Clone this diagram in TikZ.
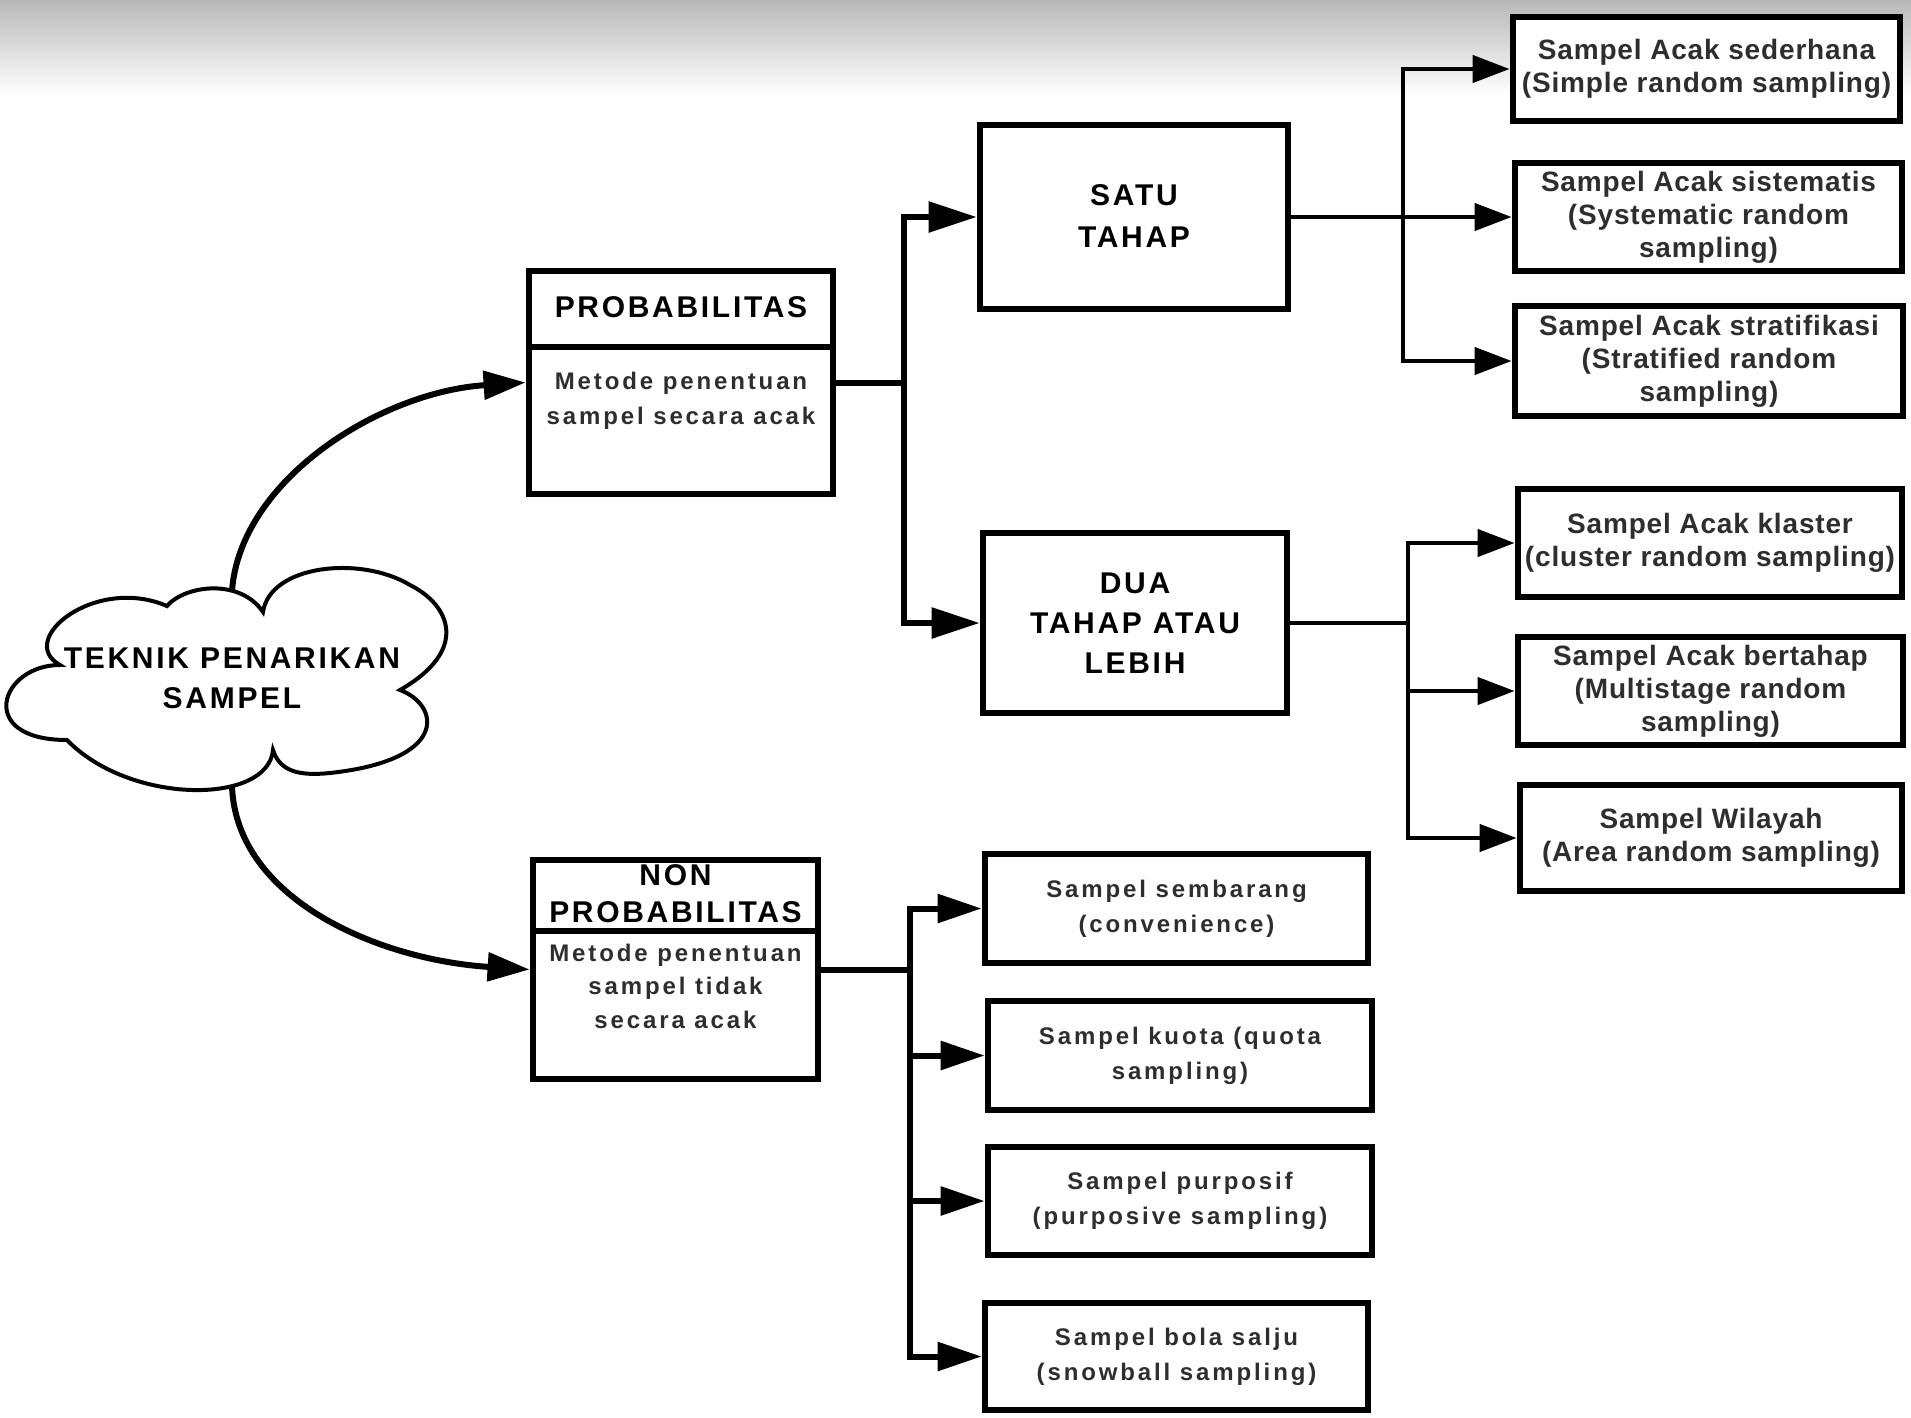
\documentclass[tikz,border=0pt]{standalone}
\usepackage{fontspec}
\setmainfont{Liberation Sans}
\newfontfamily\titlefont[LetterSpace=9]{Liberation Sans}
\newfontfamily\bodyfont[LetterSpace=12]{Liberation Sans}
\newfontfamily\leaffont[LetterSpace=3]{Liberation Sans}
\usetikzlibrary{arrows.meta,calc}

\begin{document}
\begin{tikzpicture}[x=0.5pt,y=-0.5pt,
  box/.style={draw=black, line width=3.4pt, fill=white, rectangle, inner sep=1pt, align=center},
  titletext/.style={font=\titlefont\bfseries\fontsize{15}{20}\selectfont, text=black, align=center, inner sep=0pt},
  bodytext/.style={font=\bodyfont\bfseries\fontsize{12}{17.5}\selectfont, text=black!82, align=center, inner sep=0pt},
  leaftext/.style={font=\leaffont\bfseries\fontsize{14}{16.5}\selectfont, text=black!82},
  smallbox/.style={box, font=\bodyfont\bfseries\fontsize{12}{17.5}\selectfont, text=black!82},
  link/.style={draw=black, line width=3pt},
  thinlink/.style={draw=black, line width=2.2pt},
  tipcurve/.style={-{Triangle[length=21pt,width=14pt]}},
  tipmid/.style={-{Triangle[length=24pt,width=15pt]}},
  tipright/.style={-{Triangle[length=18.5pt,width=13.5pt]}},
  tiplow/.style={-{Triangle[length=22pt,width=14pt]}},
]
\useasboundingbox (0,0) rectangle (1911,1418);
\fill[white] (0,0) rectangle (1911,1418);

% grey band along the upper edge of the sheet
\shade[top color=black!28, bottom color=white] (0,0) rectangle (1911,95);

% ---------- cloud ----------
\draw[line width=2pt, fill=white]
  (60,665) .. controls (15,640) and (95,575) .. (167,606)
  .. controls (185,585) and (240,578) .. (263,612)
  .. controls (270,565) and (360,555) .. (410,585)
  .. controls (450,605) and (470,650) .. (400,690)
  .. controls (440,705) and (450,760) .. (330,773)
  .. controls (300,776) and (280,772) .. (273,750)
  .. controls (268,805) and (130,805) .. (67,740)
  .. controls (-25,740) and (0,665) .. (60,665) -- cycle;
\node[titletext] (cloudtext) at (232,678) {TEKNIK PENARIKAN\\SAMPEL};
\coordinate (ctop) at (232,591);
\coordinate (cbot) at (232,786);

% ---------- main category boxes ----------
\node[box, minimum width=152pt, minimum height=111.5pt] (prob) at (681,382.5) {};
\coordinate (probdiv) at (0,347);
\draw[line width=3.4pt] (prob.west |- probdiv) -- (prob.east |- probdiv);
\node[titletext] (probtitle) at (681,307) {PROBABILITAS};
\node[bodytext] (probbody) at (681,401) {Metode penentuan\\sampel secara acak};

\node[box, minimum width=142.5pt, minimum height=109.5pt] (nonprob) at (675.5,969.5) {};
\coordinate (nonprobdiv) at (0,931);
\draw[line width=3.4pt] (nonprob.west |- nonprobdiv) -- (nonprob.east |- nonprobdiv);
\node[titletext, font=\titlefont\bfseries\fontsize{15}{18.5}\selectfont] (nonprobtitle) at (675.5,893.5) {NON\\PROBABILITAS};
\node[bodytext, font=\bodyfont\bfseries\fontsize{12}{16.75}\selectfont] (nonprobbody) at (675.5,986) {Metode penentuan\\sampel tidak\\secara acak};

% ---------- stage boxes ----------
\node[box, minimum width=154pt, minimum height=92pt] (satu) at (1134,217) {};
\node[titletext, font=\titlefont\bfseries\fontsize{15}{21}\selectfont] (satutext) at (1134,216) {SATU\\TAHAP};
\node[box, minimum width=152pt, minimum height=90pt] (dua) at (1135,623) {};
\node[titletext] (duatext) at (1135,623) {DUA\\TAHAP ATAU\\LEBIH};

% ---------- probability techniques ----------
\node[box, leaftext, minimum width=193.5pt, minimum height=52pt] (b1) at (1706.5,69) {Sampel Acak sederhana\\(Simple random sampling)};
\node[box, leaftext, minimum width=193.5pt, minimum height=54pt] (b2) at (1708.5,217) {Sampel Acak sistematis\\(Systematic random\\sampling)};
\node[box, leaftext, minimum width=194pt, minimum height=55pt] (b3) at (1709,361) {Sampel Acak stratifikasi\\(Stratified random\\sampling)};
\node[box, leaftext, minimum width=192pt, minimum height=54pt] (b4) at (1710,543) {Sampel Acak klaster\\(cluster random sampling)};
\node[box, leaftext, minimum width=192.5pt, minimum height=54pt] (b5) at (1710.5,691) {Sampel Acak bertahap\\(Multistage random\\sampling)};
\node[box, leaftext, minimum width=191pt, minimum height=53pt] (b6) at (1711,838) {Sampel Wilayah\\(Area random sampling)};

% ---------- non-probability techniques ----------
\node[smallbox, minimum width=191.5pt, minimum height=54.5pt] (b7) at (1176.5,908.5) {Sampel sembarang\\(convenience)};
\node[smallbox, minimum width=192pt, minimum height=54.5pt] (b8) at (1180,1055.5) {Sampel kuota (quota\\sampling)};
\node[smallbox, minimum width=192pt, minimum height=54pt] (b9) at (1180,1201) {Sampel purposif\\(purposive sampling)};
\node[smallbox, minimum width=191.5pt, minimum height=53.5pt] (b10) at (1176.5,1356.5) {Sampel bola salju\\(snowball sampling)};

% ---------- connectors ----------
\draw[link, tipcurve] (ctop) .. controls (240,480) and (380,392) .. (prob.west);
\draw[link, tipcurve] (cbot) .. controls (236,900) and (380,960) .. (nonprob.west);

\coordinate (ja) at (904,0);
\draw[link] (prob.east) -- (ja |- prob.east);
\draw[link, tipmid] (ja |- prob.east) |- (satu.west);
\draw[link, tipmid] (ja |- prob.east) |- (dua.west);

\coordinate (jb) at (1403,0);
\draw[thinlink] (satu.east) -- (jb |- satu.east);
\draw[thinlink, tipright] (jb |- satu.east) |- (b1.west);
\draw[thinlink, tipright] (jb |- satu.east) -- (b2.west);
\draw[thinlink, tipright] (jb |- satu.east) |- (b3.west);

\coordinate (jc) at (1408,0);
\draw[thinlink] (dua.east) -- (jc |- dua.east);
\draw[thinlink, tipright] (jc |- dua.east) |- (b4.west);
\draw[thinlink, tipright] (jc |- dua.east) |- (b5.west);
\draw[thinlink, tipright] (jc |- dua.east) |- (b6.west);

\coordinate (jd) at (910,0);
\draw[link] (nonprob.east) -- (jd |- nonprob.east);
\draw[link, tiplow] (jd |- nonprob.east) |- (b7.west);
\draw[link, tiplow] (jd |- nonprob.east) |- (b8.west);
\draw[link, tiplow] (jd |- nonprob.east) |- (b9.west);
\draw[link, tiplow] (jd |- nonprob.east) |- (b10.west);
\end{tikzpicture}
\end{document}
